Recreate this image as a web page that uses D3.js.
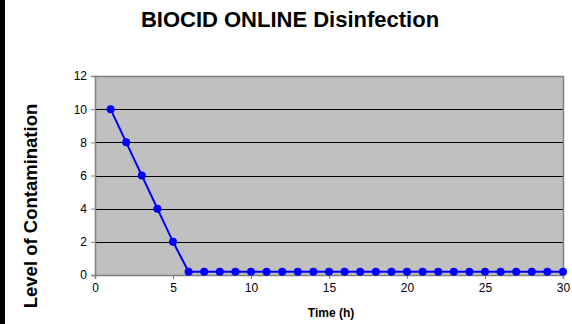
<!DOCTYPE html>
<html><head><meta charset="utf-8">
<script src="https://cdn.jsdelivr.net/npm/d3@7"></script>
<style>html,body{margin:0;padding:0;background:#fff;}svg{display:block;}</style>
</head><body>
<svg id="c" width="572" height="324"></svg>
<script>
const times = [1,2,3,4,5,6,7,8,9,10,11,12,13,14,15,16,17,18,19,20,21,22,23,24,25,26,27,28,29,30];
const levels = [10,8,6,4,2,0.2,0.2,0.2,0.2,0.2,0.2,0.2,0.2,0.2,0.2,0.2,0.2,0.2,0.2,0.2,0.2,0.2,0.2,0.2,0.2,0.2,0.2,0.2,0.2,0.2];
const yTicks = [0,2,4,6,8,10,12];
const xTicks = [0,5,10,15,20,25,30];
const title = "BIOCID ONLINE Disinfection";
const xTitle = "Time (h)";
const yTitle = "Level of Contamination";

const svg = d3.select("#c");
const L = 95, R = 563, T = 76, B = 275;
const x = d3.scaleLinear().domain([0,30]).range([L,R]);
const y = d3.scaleLinear().domain([0,12]).range([B,T]);

// left black bar
svg.append("rect").attr("x",0).attr("y",0).attr("width",5).attr("height",324).attr("fill","#000");

svg.append("rect").attr("x",L).attr("y",T).attr("width",R-L).attr("height",B-T).attr("fill","#c0c0c0");

// gridlines
svg.append("g").selectAll("line").data(yTicks.filter(d=>d>0 && d<12)).join("line")
  .attr("x1",L).attr("x2",R).attr("y1",d=>Math.round(y(d))+0.5).attr("y2",d=>Math.round(y(d))+0.5)
  .attr("stroke","#000").attr("stroke-width",1);
// border top/right
svg.append("path").attr("d",`M${L},${T+0.5}H${R+0.5}V${B}`).attr("fill","none").attr("stroke","#808080").attr("stroke-width",1.5);

// axes
const yAxis = svg.append("g").attr("transform",`translate(${L},0)`)
  .call(d3.axisLeft(y).tickValues(yTicks).tickSize(4).tickPadding(4));
const xAxis = svg.append("g").attr("transform",`translate(0,${B})`)
  .call(d3.axisBottom(x).tickValues(xTicks).tickSize(4).tickPadding(4));
[yAxis,xAxis].forEach(a=>{
  a.select(".domain").attr("stroke","#808080").attr("stroke-width",1.5);
  a.selectAll(".tick line").attr("stroke","#808080");
  a.selectAll("text").attr("font-family","Liberation Sans, Arial, sans-serif").attr("font-size",12).attr("fill","#000");
});

// line
svg.append("path").datum(times.map((t,i)=>[t,levels[i]]))
  .attr("d",d3.line().x(d=>x(d[0])).y(d=>y(d[1])))
  .attr("fill","none").attr("stroke","#0000ff").attr("stroke-width",2);
svg.append("g").selectAll("circle").data(times.map((t,i)=>[t,levels[i]])).join("circle")
  .attr("cx",d=>x(d[0])).attr("cy",d=>y(d[1])).attr("r",4).attr("fill","#0000ff");

// titles
svg.append("text").attr("x",290).attr("y",27).attr("text-anchor","middle")
  .attr("font-family","Liberation Sans, Arial, sans-serif").attr("font-weight","bold").attr("font-size",22).text(title);
svg.append("text").attr("x",331).attr("y",317).attr("text-anchor","middle")
  .attr("font-family","Liberation Sans, Arial, sans-serif").attr("font-weight","bold").attr("font-size",12).text(xTitle);
svg.append("text").attr("transform","translate(37,206) rotate(-90)").attr("text-anchor","middle")
  .attr("font-family","Liberation Sans, Arial, sans-serif").attr("font-weight","bold").attr("font-size",18.5).text(yTitle);
</script>
</body></html>
